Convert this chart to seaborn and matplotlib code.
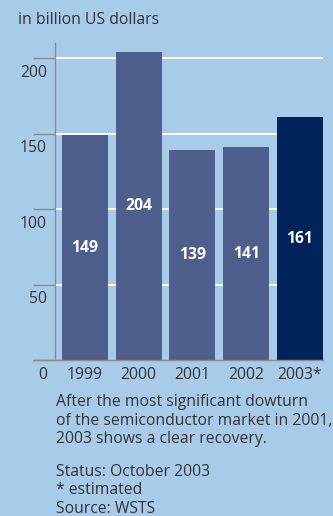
import matplotlib
matplotlib.use("Agg")
import matplotlib.pyplot as plt
import seaborn as sns

years = ["1999", "2000", "2001", "2002", "2003*"]
market = [149, 204, 139, 141, 161]
bar_colors = ["#4E5F8E", "#4E5F8E", "#4E5F8E", "#4E5F8E", "#00235A"]
y_ticks = [0, 50, 100, 150, 200]
unit_label = "in billion US dollars"
caption = ["After the most significant dowturn",
           "of the semiconductor market in 2001,",
           "2003 shows a clear recovery."]
notes = ["Status: October 2003", "* estimated", "Source: WSTS"]

BG = "#A9CBEA"
TEXT = "#333333"
AXIS = "#8C8C8C"
FS = 11.3

sns.set_theme(style="white")
plt.rcParams["font.family"] = ["Open Sans", "DejaVu Sans"]

W, H = 333, 516
fig = plt.figure(figsize=(W / 100, H / 100), dpi=100, facecolor=BG)
ax = fig.add_axes([55 / W, (H - 360.3) / H, (323 - 55) / W, (360.3 - 43) / H])
ax.set_facecolor(BG)

sns.barplot(x=years, y=market, hue=years, palette=bar_colors, width=0.857,
            saturation=1, legend=False, ax=ax, zorder=3,
            edgecolor="none", linewidth=0)

ax.set_xlim(-0.556, 4.428)
ax.set_ylim(0, 210)

# white gridlines behind the bars
for v in y_ticks[1:]:
    ax.axhline(v, color="white", lw=1.4, zorder=1)

for s in ["top", "right"]:
    ax.spines[s].set_visible(False)
for s in ["left", "bottom"]:
    ax.spines[s].set_color(AXIS)
    ax.spines[s].set_linewidth(1.0)
    ax.spines[s].set_zorder(4)
ax.spines["bottom"].set_bounds(-0.556 - 22 / 53.75, 4.428)
ax.spines["bottom"].set_clip_on(False)

ax.set_yticks(y_ticks)
ax.set_yticklabels([])
ax.tick_params(axis="y", length=16, width=1.0, color=AXIS, direction="out", left=True)
ax.tick_params(axis="x", length=0, pad=5, labelsize=FS, labelcolor=TEXT)
for lab in ax.get_xticklabels():
    lab.set_verticalalignment("top")

for v in y_ticks:
    ax.annotate(str(v), xy=(0, v), xycoords=("axes fraction", "data"),
                xytext=(-5.8, -10.6), textcoords="offset points",
                ha="right", va="center", fontsize=FS, color=TEXT)

for cont in ax.containers:
    ax.bar_label(cont, labels=[f"{int(b.get_height())}" for b in cont],
                 label_type="center", color="white", fontsize=FS,
                 fontweight="bold")

ax.set_xlabel("")
ax.set_ylabel("")

fig.text(18 / W, 1 - 20 / H, unit_label, ha="left", va="center",
         fontsize=FS, color=TEXT)
for i, line in enumerate(caption):
    fig.text(56 / W, 1 - (402 + 18.7 * i) / H, line, ha="left", va="center",
             fontsize=FS, color=TEXT)
for i, line in enumerate(notes):
    fig.text(56 / W, 1 - (472 + 18.5 * i) / H, line, ha="left", va="center",
             fontsize=FS, color=TEXT)

fig.savefig("out.png", dpi=100, facecolor=BG)
